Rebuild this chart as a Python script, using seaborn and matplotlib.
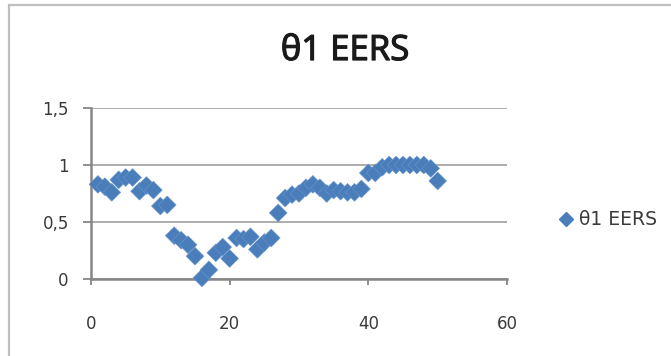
import matplotlib
matplotlib.use("Agg")
import matplotlib.pyplot as plt
import matplotlib.patheffects as pe
import seaborn as sns
import pandas as pd
from matplotlib.patches import Rectangle

# Measurement index and theta-1 values
index = list(range(1, 51))
theta1 = [0.83, 0.81, 0.76, 0.87, 0.89, 0.89, 0.77, 0.82, 0.78, 0.64,
          0.65, 0.38, 0.34, 0.30, 0.20, 0.01, 0.08, 0.23, 0.28, 0.18,
          0.36, 0.35, 0.37, 0.26, 0.32, 0.36, 0.58, 0.71, 0.74, 0.75,
          0.80, 0.83, 0.80, 0.75, 0.78, 0.77, 0.76, 0.76, 0.79, 0.93,
          0.93, 0.98, 1.00, 1.00, 1.00, 1.00, 1.00, 1.00, 0.97, 0.86]
series_name = "\u03b81 EERS"
x_ticks = [0, 20, 40, 60]
y_ticks = [0, 0.5, 1, 1.5]
y_tick_labels = ["0", "0,5", "1", "1,5"]

df = pd.DataFrame({"x": index, "y": theta1, "series": series_name})

sns.set_theme(style="white")
plt.rcParams["font.family"] = ["DejaVu Sans"]

W, H = 671, 356
fig = plt.figure(figsize=(W / 100, H / 100), dpi=100)
fig.patch.set_facecolor("white")

# chart-area frame
fig.patches.append(Rectangle((9 / W, -0.1), 1.2, 1 - 5 / H + 0.1,
                             transform=fig.transFigure, fill=False,
                             edgecolor="#BFBFBF", linewidth=1.6))

ax = fig.add_axes([91 / W, 1 - 279 / H, (507 - 91) / W, (279 - 108) / H])

blue = "#4A7EBB"
sns.scatterplot(data=df, x="x", y="y", hue="series", palette=[blue],
                marker="D", s=82, edgecolor="#6A96CC", linewidth=0.4,
                ax=ax, legend=False, zorder=3, clip_on=False)

ax.set_xlim(0, 60)
ax.set_ylim(0, 1.5)
ax.set_xticks(x_ticks)
ax.set_xticklabels([str(t) for t in x_ticks])
ax.set_yticks(y_ticks)
ax.set_yticklabels(y_tick_labels)
ax.set_xlabel("")
ax.set_ylabel("")

ax.yaxis.grid(True, color="#A6A6A6", linewidth=1.3)
ax.xaxis.grid(False)
ax.set_axisbelow(True)

for side in ["top", "right"]:
    ax.spines[side].set_visible(False)
for side in ["left", "bottom"]:
    ax.spines[side].set_visible(True)
    ax.spines[side].set_color("#868686")
    ax.spines[side].set_linewidth(1.8)

ax.tick_params(axis="x", which="major", direction="out", length=4,
               width=1.3, color="#868686", pad=22, labelsize=12,
               labelcolor="#3A3A3A", bottom=True)
ax.tick_params(axis="y", which="major", direction="out", length=6,
               width=1.3, color="#868686", pad=10, labelsize=12,
               labelcolor="#3A3A3A", left=True)

title = fig.text(345 / W, 1 - 51 / H, series_name, ha="center", va="center",
                 fontsize=25, color="#1A1A1A",
                 family=["Open Sans", "DejaVu Sans"])
title.set_path_effects([pe.withStroke(linewidth=0.9, foreground="#1A1A1A")])

handle = plt.Line2D([], [], linestyle="none", marker="D", markersize=7.5,
                    color=blue, markeredgecolor=blue)
fig.legend([handle], [series_name], loc="center left",
           bbox_to_anchor=(538 / W, 1 - 220 / H), frameon=False,
           fontsize=13.5, handletextpad=0.1, handlelength=1.2,
           labelcolor="#3A3A3A")

fig.savefig("out.png", dpi=100, facecolor="white")
